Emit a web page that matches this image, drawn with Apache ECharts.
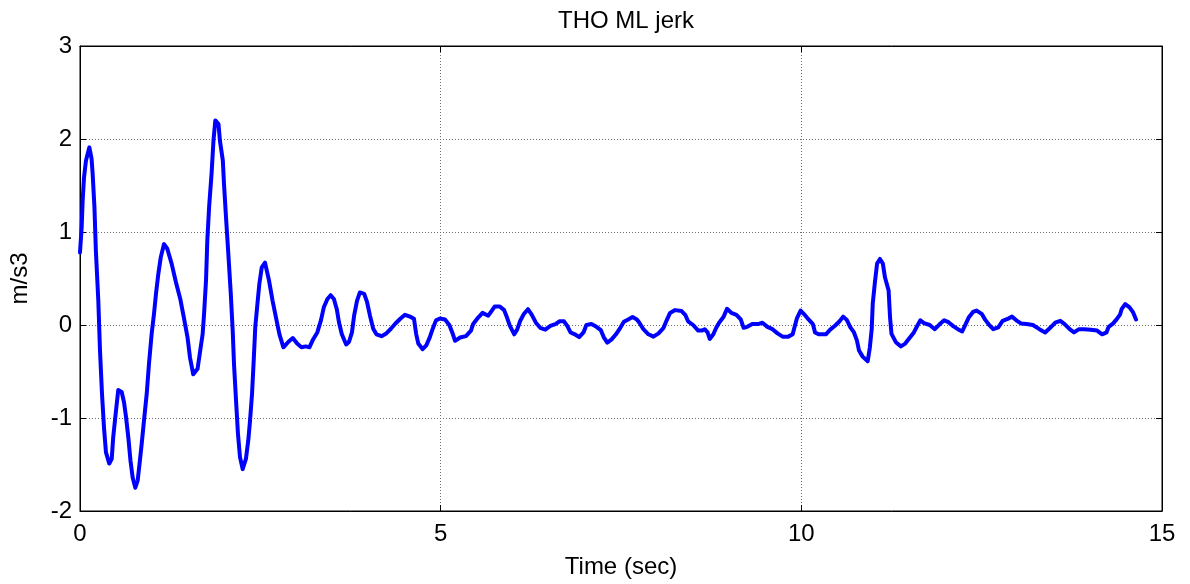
<!DOCTYPE html>
<html>
<head>
<meta charset="utf-8">
<script src="https://cdn.jsdelivr.net/npm/echarts@6/dist/echarts.min.js"></script>
<style>
html,body{margin:0;padding:0;background:#fff;}
#chart{width:1190px;height:584px;}
</style>
</head>
<body>
<div id="chart"></div>
<script>
const titleText = "THO ML jerk";
const xName = "Time (sec)";
const yName = "m/s3";
const xTicks = [0, 5, 10, 15];
const yTicks = [-2, -1, 0, 1, 2, 3];

const time = [
0,0.023,0.037,0.055,0.083,0.13,0.16,0.175,0.2,0.22,0.254,0.277,0.305,0.333,0.36,0.406,0.44,0.46,0.495,0.53,
0.578,0.61,0.638,0.67,0.70,0.73,0.767,0.80,0.83,0.855,0.887,0.925,0.957,0.994,1.026,1.054,1.086,1.12,1.165,1.21,
1.27,1.33,1.39,1.44,1.49,1.525,1.57,1.63,1.66,1.70,1.72,1.747,1.765,1.79,1.825,1.85,1.876,1.92,1.94,1.98,
1.996,2.024,2.056,2.09,2.117,2.135,2.163,2.19,2.218,2.255,2.30,2.333,2.357,2.385,2.41,2.43,2.46,2.486,2.52,2.565,
2.62,2.67,2.717,2.765,2.82,2.89,2.95,3.01,3.07,3.13,3.18,3.235,3.29,3.34,3.38,3.43,3.475,3.52,3.56,3.59,
3.63,3.69,3.73,3.77,3.80,3.84,3.88,3.94,3.98,4.02,4.065,4.11,4.18,4.24,4.31,4.37,4.44,4.505,4.575,4.63,
4.66,4.69,4.75,4.80,4.85,4.89,4.935,4.99,5.06,5.12,5.17,5.20,5.27,5.35,5.42,5.45,5.52,5.58,5.66,5.71,
5.75,5.82,5.88,5.92,5.96,6.02,6.06,6.10,6.15,6.21,6.26,6.32,6.38,6.45,6.52,6.59,6.65,6.71,6.755,6.80,
6.86,6.92,6.98,7.02,7.09,7.16,7.22,7.26,7.31,7.37,7.43,7.49,7.54,7.60,7.66,7.72,7.755,7.81,7.88,7.95,
8.02,8.09,8.13,8.18,8.25,8.34,8.39,8.43,8.50,8.57,8.62,8.66,8.70,8.73,8.78,8.82,8.86,8.92,8.97,9.03,
9.10,9.16,9.20,9.25,9.32,9.40,9.46,9.53,9.60,9.67,9.74,9.82,9.88,9.91,9.94,9.99,10.04,10.10,10.16,10.19,
10.24,10.34,10.40,10.47,10.53,10.58,10.63,10.68,10.73,10.77,10.80,10.85,10.92,10.95,10.976,10.99,11.02,11.05,11.09,11.13,
11.16,11.21,11.23,11.25,11.31,11.38,11.44,11.50,11.56,11.61,11.65,11.70,11.78,11.85,11.92,11.98,12.04,12.11,12.17,12.23,
12.27,12.32,12.38,12.43,12.50,12.55,12.61,12.66,12.73,12.79,12.86,12.92,12.98,13.05,13.12,13.21,13.30,13.38,13.45,13.52,
13.59,13.65,13.72,13.78,13.85,13.92,14.01,14.10,14.17,14.23,14.26,14.32,14.37,14.42,14.44,14.49,14.55,14.60,14.64
];
const jerk = [
0.78,1.05,1.34,1.58,1.77,1.91,1.79,1.63,1.27,0.8,0.26,-0.27,-0.74,-1.11,-1.37,-1.49,-1.44,-1.21,-0.95,-0.70,
-0.72,-0.83,-0.99,-1.21,-1.46,-1.64,-1.75,-1.67,-1.46,-1.28,-1.03,-0.74,-0.41,-0.09,0.12,0.34,0.55,0.73,0.87,0.82,
0.66,0.46,0.28,0.08,-0.13,-0.35,-0.53,-0.47,-0.31,-0.10,0.12,0.48,0.91,1.27,1.64,1.98,2.20,2.16,1.98,1.77,
1.52,1.16,0.77,0.34,-0.06,-0.42,-0.81,-1.17,-1.42,-1.55,-1.44,-1.24,-1.03,-0.74,-0.35,-0.02,0.23,0.44,0.62,0.67,
0.48,0.26,0.08,-0.10,-0.24,-0.18,-0.14,-0.20,-0.24,-0.23,-0.24,-0.15,-0.08,0.05,0.19,0.28,0.32,0.28,0.17,0.03,
-0.10,-0.21,-0.18,-0.08,0.10,0.26,0.35,0.335,0.245,0.10,-0.04,-0.10,-0.12,-0.095,-0.04,0.013,0.067,0.11,0.09,0.067,
-0.095,-0.20,-0.26,-0.22,-0.13,-0.04,0.05,0.07,0.06,0.0,-0.10,-0.17,-0.135,-0.12,-0.06,0.01,0.08,0.13,0.10,0.155,
0.20,0.20,0.16,0.08,-0.01,-0.10,-0.05,0.04,0.115,0.17,0.115,0.025,-0.03,-0.05,-0.01,0.01,0.04,0.04,-0.01,-0.08,
-0.10,-0.13,-0.08,0.0,0.01,-0.02,-0.055,-0.13,-0.19,-0.155,-0.10,-0.03,0.035,0.06,0.085,0.06,0.025,-0.045,-0.10,-0.125,
-0.09,-0.03,0.045,0.13,0.16,0.15,0.11,0.04,0.0,-0.06,-0.06,-0.045,-0.08,-0.15,-0.10,-0.03,0.025,0.085,0.175,0.13,
0.11,0.06,-0.03,-0.02,0.01,0.01,0.025,-0.02,-0.045,-0.09,-0.125,-0.125,-0.10,-0.01,0.075,0.155,0.115,0.06,0.01,-0.08,
-0.10,-0.10,-0.05,-0.005,0.04,0.09,0.055,-0.025,-0.08,-0.165,-0.275,-0.34,-0.39,-0.24,-0.04,0.23,0.46,0.66,0.71,0.66,
0.51,0.37,0.08,-0.095,-0.185,-0.23,-0.20,-0.14,-0.08,-0.005,0.05,0.02,0.0,-0.045,0.01,0.05,0.03,-0.015,-0.045,-0.07,
-0.005,0.08,0.14,0.155,0.12,0.055,-0.005,-0.045,-0.025,0.045,0.065,0.09,0.05,0.015,0.01,0.0,-0.045,-0.08,-0.03,0.025,
0.045,0.01,-0.045,-0.08,-0.045,-0.045,-0.05,-0.06,-0.10,-0.08,-0.02,0.015,0.06,0.115,0.17,0.225,0.19,0.135,0.06
];

const seriesData = time.map((t, i) => [t, jerk[i]]);
const FONT = "Liberation Sans, Arial, sans-serif";

const chart = echarts.init(document.getElementById('chart'), null, {renderer: 'canvas'});
const gridLine = {show: true, lineStyle: {color: '#6e6e6e', type: [1, 2], width: 1}};
chart.setOption({
  animation: false,
  backgroundColor: '#ffffff',
  title: {
    text: titleText, left: 621, textAlign: 'center', top: 4,
    textStyle: {fontFamily: FONT, fontSize: 24, fontWeight: 'normal', color: '#000'}
  },
  grid: {left: 80, right: 28, top: 46, bottom: 73, show: true, borderColor: '#000', borderWidth: 1, backgroundColor: '#fff'},
  xAxis: [{
    type: 'value', min: xTicks[0], max: xTicks[xTicks.length-1], interval: xTicks[1]-xTicks[0],
    name: xName, nameLocation: 'middle', nameGap: 44,
    nameTextStyle: {fontFamily: FONT, fontSize: 24, color: '#000'},
    axisLine: {show: true, onZero: false, lineStyle: {color: '#000', width: 1}},
    axisTick: {show: true, inside: true, length: 6, lineStyle: {color: '#000'}},
    axisLabel: {fontFamily: FONT, fontSize: 24, color: '#000', margin: 11},
    splitLine: gridLine
  }, {
    type: 'value', position: 'top', min: xTicks[0], max: xTicks[xTicks.length-1], interval: xTicks[1]-xTicks[0],
    axisLine: {show: true, onZero: false, lineStyle: {color: '#000'}},
    axisTick: {show: true, inside: true, length: 6, lineStyle: {color: '#000'}},
    axisLabel: {show: false}, splitLine: {show: false}
  }],
  yAxis: [{
    type: 'value', min: yTicks[0], max: yTicks[yTicks.length-1], interval: yTicks[1]-yTicks[0],
    name: yName, nameLocation: 'middle', nameGap: 48, nameRotate: 90,
    nameTextStyle: {fontFamily: FONT, fontSize: 24, color: '#000'},
    axisLine: {show: true, onZero: false, lineStyle: {color: '#000', width: 1}},
    axisTick: {show: true, inside: true, length: 6, lineStyle: {color: '#000'}},
    axisLabel: {fontFamily: FONT, fontSize: 24, color: '#000', margin: 8},
    splitLine: gridLine
  }, {
    type: 'value', position: 'right', min: yTicks[0], max: yTicks[yTicks.length-1], interval: yTicks[1]-yTicks[0],
    axisLine: {show: true, onZero: false, lineStyle: {color: '#000'}},
    axisTick: {show: true, inside: true, length: 6, lineStyle: {color: '#000'}},
    axisLabel: {show: false}, splitLine: {show: false}
  }],
  series: [{
    type: 'line', xAxisIndex: 0, yAxisIndex: 0, data: seriesData,
    showSymbol: false, symbol: 'none',
    lineStyle: {color: '#0000ff', width: 4, join: 'round', cap: 'round'},
    z: 5
  }]
});
</script>
</body>
</html>
